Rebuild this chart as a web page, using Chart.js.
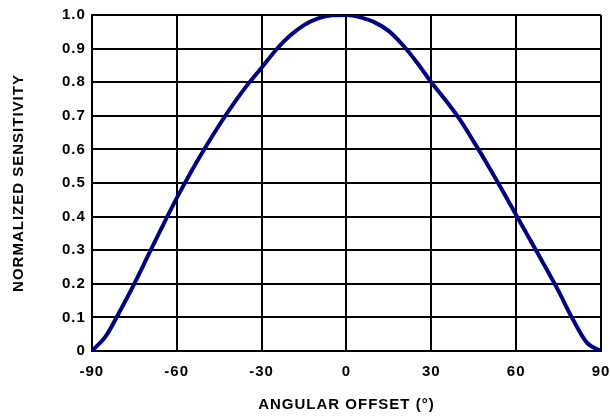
<!DOCTYPE html>
<html>
<head>
<meta charset="utf-8">
<script src="https://cdn.jsdelivr.net/npm/chart.js@4"></script>
<style>
  html, body { margin: 0; padding: 0; background: #fff; }
  #wrap { width: 610px; height: 418px; }
</style>
</head>
<body>
<div id="wrap"><canvas id="sensChart" width="610" height="418"></canvas></div>
<script>
// angular offset in degrees
const angles = [-90, -85, -80, -75, -70, -65, -60, -55, -50, -45, -40, -35, -30, -25, -20, -15, -10, -5,
                0, 5, 10, 15, 20, 25, 30, 35, 40, 45, 50, 55, 60, 65, 70, 75, 80, 85, 90];
// normalized sensitivity
const sensitivity = [0, 0.045, 0.12, 0.20, 0.286, 0.372, 0.455, 0.532, 0.604, 0.672, 0.735, 0.792, 0.843, 0.895, 0.938, 0.97, 0.99, 0.999,
                     1.0, 0.993, 0.978, 0.952, 0.91, 0.858, 0.80, 0.747, 0.69, 0.623, 0.553, 0.48, 0.405, 0.33, 0.255, 0.178, 0.095, 0.025, 0];

const xTitle = 'ANGULAR OFFSET (°)';
const yTitle = 'NORMALIZED SENSITIVITY';

const font = { family: "Arial, 'Liberation Sans', sans-serif", size: 15, weight: 'bold' };

// the reference text is set a little wider than plain Arial
const spacing = {
    id: 'spacing',
    beforeLayout(chart) { chart.ctx.letterSpacing = '1px'; },
    beforeDraw(chart) { chart.ctx.letterSpacing = '1px'; }
};

const ctx = document.getElementById('sensChart').getContext('2d');

new Chart(ctx, {
    type: 'line',
    data: {
        datasets: [{
            data: angles.map((a, i) => ({ x: a, y: sensitivity[i] })),
            borderColor: '#000080',
            borderWidth: 4,
            pointRadius: 0,
            cubicInterpolationMode: 'monotone',
            fill: false
        }]
    },
    plugins: [spacing],
    options: {
        responsive: false,
        animation: false,
        layout: { padding: { left: 10, right: 9, top: 1, bottom: 4 } },
        plugins: {
            legend: { display: false },
            tooltip: { enabled: false }
        },
        scales: {
            x: {
                type: 'linear',
                min: -90,
                max: 90,
                grid: { color: '#000', lineWidth: 2, drawTicks: false },
                border: { color: '#000', width: 2 },
                ticks: { stepSize: 30, color: '#000', font: font, padding: 12, maxRotation: 0 },
                title: { display: true, text: xTitle, color: '#000', font: font, padding: { top: 3, bottom: 0 } },
                // let the "90" label hang past the plot edge like the original
                afterFit: scale => { scale.paddingRight = 0; }
            },
            y: {
                min: 0,
                max: 1,
                grid: { color: '#000', lineWidth: 2, drawTicks: false },
                border: { color: '#000', width: 2 },
                ticks: {
                    stepSize: 0.1,
                    color: '#000',
                    font: font,
                    padding: 6,
                    callback: v => v === 0 ? '0' : v.toFixed(1)
                },
                title: { display: true, text: yTitle, color: '#000', font: font, padding: { top: 0, bottom: 28 } }
            }
        }
    }
});
</script>
</body>
</html>
